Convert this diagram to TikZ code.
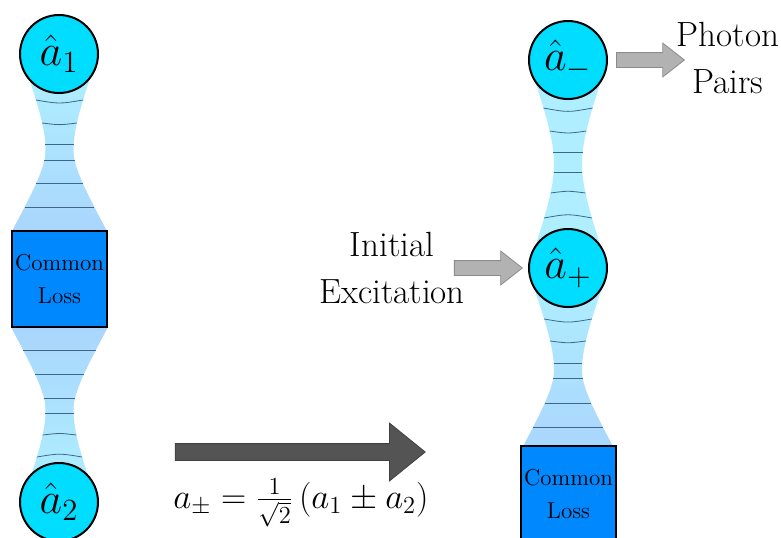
\documentclass[tikz,border=0pt]{standalone}
\usepackage{fix-cm}
\usepackage{amsmath}
\usetikzlibrary{shapes.geometric, shapes.arrows, positioning, calc}

\definecolor{modecyan}{RGB}{0,221,255}
\definecolor{lossblue}{RGB}{0,136,255}
\definecolor{beamcyan}{RGB}{174,238,255}
\definecolor{beamblue}{RGB}{170,214,253}
\definecolor{wavegray}{RGB}{62,104,134}

% gaussian beam body: xc, y start, y waist, y end, zR start side, zR end side, top colour, bottom colour
\newcommand{\beamshape}[8]{%
  \shade[top color=#7, bottom color=#8]
    plot[domain=#2:#3, samples=25] ({#1-14*sqrt(1+((\x-#3)/#5)^2)},\x)
    -- plot[domain=#3:#4, samples=25] ({#1-14*sqrt(1+((\x-#3)/#6)^2)},\x)
    -- plot[domain=#4:#3, samples=25] ({#1+14*sqrt(1+((\x-#3)/#6)^2)},\x)
    -- plot[domain=#3:#2, samples=25] ({#1+14*sqrt(1+((\x-#3)/#5)^2)},\x)
    -- cycle;}

% wavefronts: xc, y waist, zR, bow, list of y
\newcommand{\beamlines}[5]{%
  \foreach \yy in {#5}{%
    \pgfmathsetmacro{\hw}{14*sqrt(1+((\yy-#2)/#3)^2)}%
    \pgfmathsetmacro{\bw}{#4*(#2-\yy)}%
    \draw[wavefront] (#1-\hw,\yy) .. controls (#1,\yy+\bw) .. (#1+\hw,\yy);
  }}

\tikzset{
  mode/.style={draw, circle, fill=modecyan, line width=1pt, minimum size=39pt, inner sep=0pt, font=\fontsize{22}{26}\selectfont},
  lossbox/.style={draw, fill=lossblue, line width=0.9pt, minimum width=47.5pt, minimum height=48pt, inner sep=0pt, align=center, font=\fontsize{11.5}{16.5}\selectfont},
  annot/.style={align=center, inner sep=0pt, font=\fontsize{17.5}{23.5}\selectfont},
  grayarrow/.style={single arrow, draw=gray!90, fill=gray!60, line width=0.4pt, inner xsep=0pt, inner ysep=3.5pt, minimum height=34pt, single arrow head extend=4.75pt, single arrow tip angle=76},
  bigarrow/.style={single arrow, draw=black!75, fill=black!67, line width=0.4pt, inner xsep=0pt, inner ysep=4pt, minimum height=125pt, single arrow head extend=10.25pt, single arrow tip angle=78},
  wavefront/.style={draw=wavegray, line width=0.4pt},
}

\begin{document}
\begin{tikzpicture}[x=0.5pt, y=-0.5pt]
  \useasboundingbox[fill=white] (0,0) rectangle (781,537);

  % left: two modes with common loss
  \beamshape{59.5}{75}{150}{231}{37}{25}{beamcyan}{beamblue}
  \beamlines{59.5}{150}{37}{0.08}{100,123,144}
  \beamlines{59.5}{150}{25}{0}{160,183,207}
  \beamshape{59.5}{327}{410}{485}{25}{37}{beamblue}{beamcyan}
  \beamlines{59.5}{410}{25}{0}{350,374,398}
  \beamlines{59.5}{410}{37}{0.08}{413,435,457}

  \node[lossbox] (loss1) at (59.5,279) {Common\\Loss};
  \node[mode] (a1) at (59,54) {$\hat{a}_1$};
  \node[mode] (a2) at (59,502) {$\hat{a}_2$};

  % right: supermodes
  \beamshape{568}{80}{164}{250}{39}{39}{beamcyan}{beamcyan}
  \beamlines{568}{164}{39}{0.08}{108,131,152,172,193,218}
  \beamshape{568}{285}{370}{446}{37}{25}{beamcyan}{beamblue}
  \beamlines{568}{370}{37}{0.08}{319,341,363}
  \beamlines{568}{370}{25}{0}{378,403,427}

  \node[lossbox] (loss2) at (568.5,494) {Common\\Loss};
  \node[mode] (am) at (568,60) {$\hat{a}_-$};
  \node[mode] (ap) at (568,268) {$\hat{a}_+$};

  % gray arrows
  \node[grayarrow, right=4pt of am] (pairsarrow) {};
  \node[grayarrow, left=2.5pt of ap] (excitearrow) {};
  \node[annot] (pairs) at (728,58) {Photon\\Pairs};
  \node[annot] (excite) at (392,268) {Initial\\Excitation};

  % basis change
  \node[bigarrow] (maparrow) at (295,452) {};
  \node[font=\fontsize{17.5}{20}\selectfont] (formula) at (301,503) {$a_\pm = \frac{1}{\sqrt{2}}\,(a_1 \pm a_2)$};
\end{tikzpicture}
\end{document}
